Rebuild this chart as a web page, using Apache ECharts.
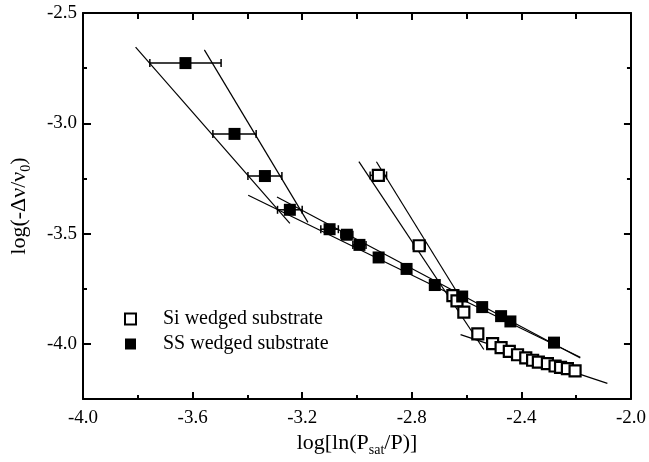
<!DOCTYPE html>
<html>
<head>
<meta charset="utf-8">
<script src="https://cdn.jsdelivr.net/npm/echarts@6/dist/echarts.min.js"></script>
<style>
  html, body { margin: 0; padding: 0; background: #fff; }
  #chart { width: 649px; height: 462px; }
</style>
</head>
<body>
<div id="chart"></div>
<script>
// SS wedged substrate (filled squares), x error = half-width of the horizontal bar
const ssX = [-3.626, -3.447, -3.336, -3.245, -3.100, -3.037, -2.991, -2.921, -2.819, -2.716, -2.616, -2.543, -2.474, -2.440, -2.281];
const ssY = [-2.727, -3.048, -3.239, -3.392, -3.480, -3.505, -3.551, -3.608, -3.660, -3.733, -3.785, -3.833, -3.874, -3.898, -3.994];
const ssErr = [0.13, 0.079, 0.062, 0.045, 0.032, 0.022, 0.024, 0, 0, 0, 0, 0, 0, 0, 0];

// Si wedged substrate (open squares)
const siX = [-2.922, -2.773, -2.650, -2.635, -2.610, -2.559, -2.505, -2.474, -2.444, -2.414, -2.384, -2.359, -2.338, -2.305, -2.277, -2.257, -2.232, -2.204];
const siY = [-3.236, -3.555, -3.781, -3.805, -3.856, -3.954, -3.999, -4.017, -4.034, -4.049, -4.063, -4.074, -4.082, -4.089, -4.100, -4.106, -4.112, -4.122];
const siErr = [0.03, 0.022, 0, 0, 0, 0, 0, 0, 0, 0, 0, 0, 0, 0, 0, 0, 0, 0];

// straight fit segments, [[x1, y1], [x2, y2]]
const ssFits = [
  [[-3.808, -2.655], [-3.245, -3.454]],
  [[-3.557, -2.667], [-3.179, -3.449]],
  [[-3.397, -3.326], [-2.185, -4.060]],
  [[-3.292, -3.334], [-2.185, -4.064]],
];
const siFits = [
  [[-2.993, -3.174], [-2.537, -4.025]],
  [[-2.929, -3.174], [-2.624, -3.787]],
  [[-2.622, -3.958], [-2.086, -4.179]],
];

const xLabels = [-4.0, -3.6, -3.2, -2.8, -2.4, -2.0];
const yLabels = [-4.0, -3.5, -3.0, -2.5];
const yMinor = [-3.75, -3.25, -2.75];

const FONT = "Liberation Serif";
const lineStyle = { color: "#000", width: 2 };

function errorSeries(xs, ys, errs) {
  const data = xs.map((x, i) => [x, ys[i], errs[i]]).filter(d => d[2] > 0);
  return {
    type: "custom",
    z: 1,
    silent: true,
    data,
    renderItem(params, api) {
      const x = api.value(0), y = api.value(1), e = api.value(2);
      const l = api.coord([x - e, y]);
      const r = api.coord([x + e, y]);
      const st = { stroke: "#000", lineWidth: 1.5 };
      const cap = 4;
      return {
        type: "group",
        children: [
          { type: "line", shape: { x1: l[0], y1: l[1], x2: r[0], y2: r[1] }, style: st },
          { type: "line", shape: { x1: l[0], y1: l[1] - cap, x2: l[0], y2: l[1] + cap }, style: st },
          { type: "line", shape: { x1: r[0], y1: r[1] - cap, x2: r[0], y2: r[1] + cap }, style: st },
        ],
      };
    },
  };
}

function fitSeries(seg) {
  return {
    type: "line",
    data: seg,
    showSymbol: false,
    silent: true,
    z: 1,
    lineStyle: { color: "#000", width: 1.2 },
  };
}

function yAxisSide(position, ticks, len, extra) {
  return {
    type: "value",
    position,
    min: -4.25,
    max: -2.5,
    axisLine: { show: true, lineStyle },
    axisTick: { show: true, inside: true, length: len, customValues: ticks, lineStyle },
    axisLabel: { show: false },
    splitLine: { show: false },
    ...extra,
  };
}

const nameRich = {
  a: { fontFamily: FONT, fontSize: 22, color: "#000", lineHeight: 28 },
  b: { fontFamily: FONT, fontSize: 14, color: "#000", lineHeight: 14, verticalAlign: "bottom" },
};

const option = {
  animation: false,
  backgroundColor: "#fff",
  textStyle: { fontFamily: FONT },
  grid: { left: 82, right: 16, top: 13, bottom: 61 },
  legend: {
    data: ["Si wedged substrate", "SS wedged substrate"],
    orient: "vertical",
    left: 119,
    top: 304,
    itemWidth: 11,
    itemHeight: 11,
    itemGap: 5,
    icon: "rect",
    textStyle: { fontFamily: FONT, fontSize: 20, color: "#000", padding: [0, 0, 0, 22] },
  },
  xAxis: [
    {
      type: "value",
      position: "bottom",
      min: -4,
      max: -2,
      interval: 0.4,
      axisLine: { show: true, onZero: false, lineStyle },
      axisTick: { show: true, inside: true, length: 7, lineStyle },
      minorTick: { show: true, splitNumber: 2, length: 4, lineStyle: { color: "#000", width: 2 } },
      splitLine: { show: false },
      axisLabel: {
        color: "#000", fontFamily: FONT, fontSize: 19, margin: 9,
        formatter: v => v.toFixed(1),
      },
      name: "{a|log[ln(P}{b|sat}{a|/P)]}",
      nameLocation: "middle",
      nameGap: 23,
      nameTextStyle: { rich: nameRich },
    },
    {
      type: "value",
      position: "top",
      min: -4,
      max: -2,
      interval: 0.4,
      axisLine: { show: true, onZero: false, lineStyle },
      axisTick: { show: true, inside: true, length: 7, lineStyle },
      minorTick: { show: true, splitNumber: 2, length: 6, lineStyle: { color: "#000", width: 2 } },
      splitLine: { show: false },
      axisLabel: { show: false },
    },
  ],
  yAxis: [
    yAxisSide("left", yLabels, 8, {
      axisLabel: {
        show: true, customValues: yLabels, color: "#000", fontFamily: FONT, fontSize: 19, margin: 6,
        formatter: v => v.toFixed(1),
      },
      name: "{a|log(-Δν/ν}{b|0}{a|)}",
      nameLocation: "middle",
      nameRotate: 90,
      nameGap: 50,
      nameTextStyle: { rich: nameRich },
    }),
    yAxisSide("left", yMinor, 4, { axisLine: { show: false } }),
    yAxisSide("right", yLabels, 7),
    yAxisSide("right", yMinor, 4, { axisLine: { show: false } }),
  ],
  series: [
    ...ssFits.map(fitSeries),
    ...siFits.map(fitSeries),
    errorSeries(ssX, ssY, ssErr),
    errorSeries(siX, siY, siErr),
    {
      name: "Si wedged substrate",
      type: "scatter",
      symbol: "rect",
      symbolSize: 11,
      z: 3,
      data: siX.map((x, i) => [x, siY[i]]),
      itemStyle: { color: "#fff", borderColor: "#000", borderWidth: 2.2, opacity: 1 },
    },
    {
      name: "SS wedged substrate",
      type: "scatter",
      symbol: "rect",
      symbolSize: 12,
      z: 3,
      data: ssX.map((x, i) => [x, ssY[i]]),
      itemStyle: { color: "#000", opacity: 1 },
    },
  ],
};

const chart = echarts.init(document.getElementById("chart"));
chart.setOption(option);
</script>
</body>
</html>
